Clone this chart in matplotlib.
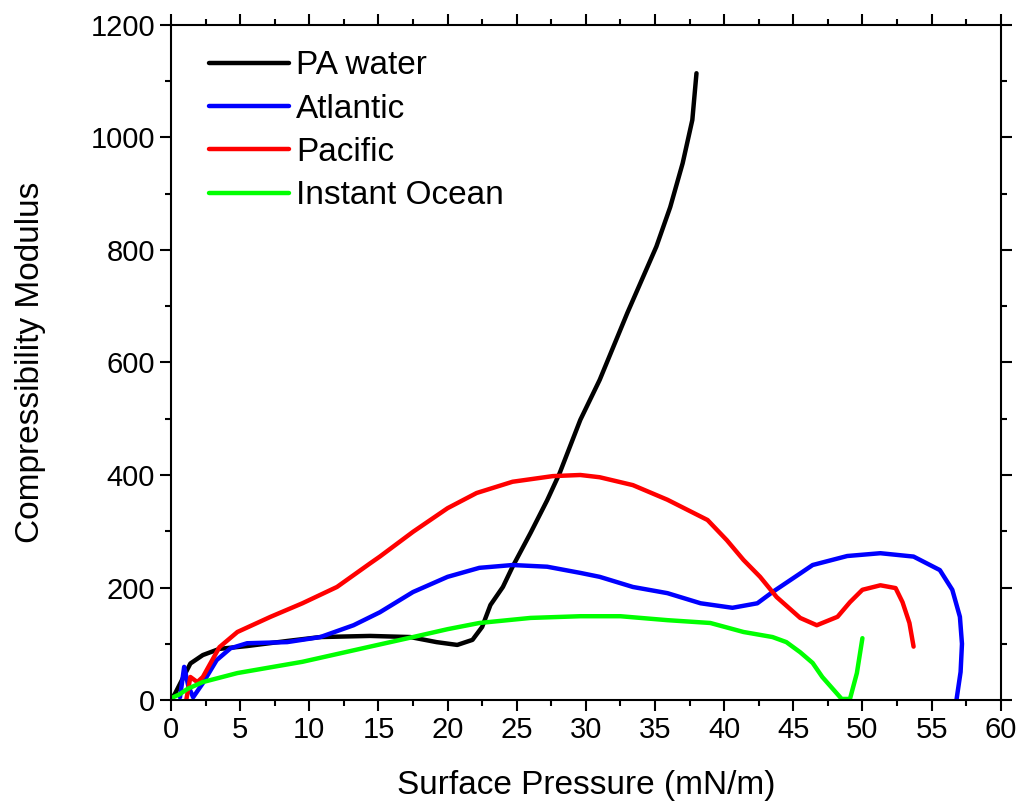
import matplotlib
matplotlib.use("Agg")
import matplotlib.pyplot as plt
from matplotlib.ticker import MultipleLocator

# PA water
pa_x = [0.0, 0.3, 0.9, 1.4, 2.3, 3.5, 5.5, 8.4, 10.8, 14.4, 17.3, 19.2, 20.7, 21.8,
        22.5, 23.1, 24.0, 24.7, 26.0, 27.2, 28.1, 29.6, 31.0, 33.0, 35.1, 36.1, 37.0,
        37.7, 38.0]
pa_y = [0, 12, 41, 65, 80, 91, 96, 105, 112, 114, 112, 103, 98, 107,
        130, 169, 201, 237, 297, 355, 403, 498, 569, 688, 806, 876, 954,
        1031, 1114]

# Atlantic
at_x = [0.65, 0.95, 1.25, 1.6, 2.3, 3.3, 4.3, 5.5, 8.4, 10.8, 13.2, 15.1, 17.5, 20.0,
        22.3, 24.7, 27.2, 29.6, 31.0, 33.4, 35.9, 38.3, 40.6, 42.4, 43.5, 45.5, 46.4,
        48.9, 51.3, 53.7, 55.6, 56.5, 57.05, 57.2, 57.1, 56.8]
at_y = [5, 59, 25, 5, 30, 71, 92, 101, 103, 112, 133, 156, 192, 219,
        235, 240, 237, 226, 219, 201, 190, 172, 164, 172, 192, 225, 240,
        256, 261, 255, 231, 196, 148, 100, 50, 0]

# Pacific
pc_x = [1.1, 1.4, 1.9, 2.3, 3.5, 4.8, 7.2, 9.5, 12.0, 14.4, 15.1, 17.5, 20.0, 22.1,
        24.7, 27.6, 29.6, 31.0, 33.4, 35.9, 38.8, 40.2, 41.4, 42.6, 43.8, 45.5, 46.7,
        48.2, 49.1, 50.0, 51.3, 52.4, 52.9, 53.4, 53.7]
pc_y = [0, 41, 32, 41, 94, 121, 148, 172, 201, 243, 255, 299, 341, 368,
        388, 398, 400, 396, 382, 356, 320, 284, 249, 219, 183, 146, 133,
        148, 174, 196, 204, 199, 174, 137, 95]

# Instant Ocean
io_x = [0.15, 0.6, 1.2, 2.3, 4.8, 9.5, 14.4, 17.5, 20.0, 22.3, 26.0, 29.6, 32.5,
        35.9, 39.0, 41.4, 43.5, 44.5, 45.5, 46.4, 47.1, 48.5, 49.1, 49.6, 50.0]
io_y = [5, 10, 20, 32, 48, 68, 95, 112, 126, 137, 146, 149, 149,
        142, 137, 121, 112, 103, 85, 66, 41, 2, 2, 48, 110]

series = [
    (pa_x, pa_y, "#000000", "PA water"),
    (at_x, at_y, "#0000ff", "Atlantic"),
    (pc_x, pc_y, "#ff0000", "Pacific"),
    (io_x, io_y, "#00ff00", "Instant Ocean"),
]

fig = plt.figure(figsize=(10.18, 8.01), dpi=100)
ax = fig.add_axes([0.168, 0.126, 0.815, 0.843])

for x, y, c, lab in series:
    ax.plot(x, y, color=c, lw=3.2, label=lab, solid_joinstyle="round", solid_capstyle="round")

ax.set_xlim(0, 60)
ax.set_ylim(0, 1200)
ax.xaxis.set_major_locator(MultipleLocator(5))
ax.xaxis.set_minor_locator(MultipleLocator(2.5))
ax.yaxis.set_major_locator(MultipleLocator(200))
ax.yaxis.set_minor_locator(MultipleLocator(100))
ax.tick_params(which="both", direction="out", top=True, right=True, width=1.5, color="black")
ax.tick_params(which="major", length=8)
ax.tick_params(which="minor", length=4)
ax.tick_params(labeltop=False, labelright=False)
for lbl in ax.get_xticklabels() + ax.get_yticklabels():
    lbl.set_family(["Liberation Sans Narrow", "Liberation Sans", "DejaVu Sans"])
    lbl.set_fontsize(21)
for s in ax.spines.values():
    s.set_linewidth(1.5)

ax.set_xlabel("Surface Pressure (mN/m)", fontsize=24, family="Liberation Sans", labelpad=19)
ax.set_ylabel("Compressibility Modulus", fontsize=24, family="Liberation Sans", labelpad=32)

ax.legend(loc="upper left", bbox_to_anchor=(0.03, 0.982), frameon=False,
          prop={"family": "Liberation Sans", "size": 24}, handlelength=2.4,
          handletextpad=0.2, labelspacing=0.37, borderaxespad=0)

fig.savefig("out.png", dpi=100)
